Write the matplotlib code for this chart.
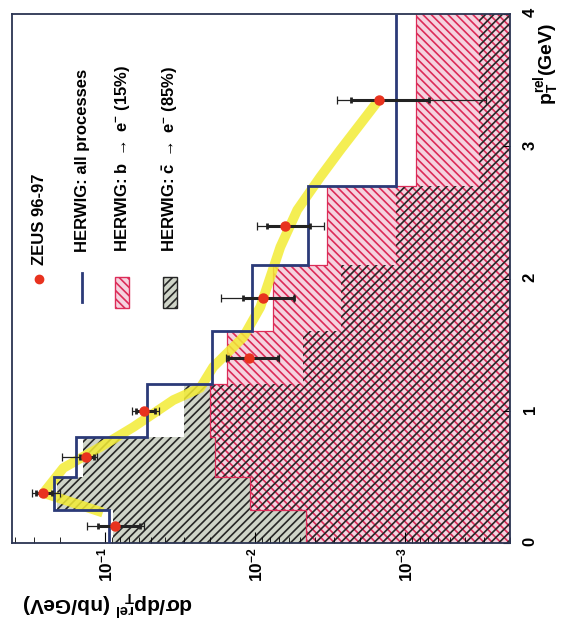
import numpy as np
import matplotlib.pyplot as plt
from matplotlib.patches import Rectangle
from matplotlib.lines import Line2D
from matplotlib.ticker import NullFormatter, LogLocator

plt.rcParams['font.family'] = 'Liberation Sans'
plt.rcParams['font.weight'] = 'bold'
plt.rcParams['mathtext.fontset'] = 'custom'
plt.rcParams['mathtext.rm'] = 'Liberation Sans:bold'
plt.rcParams['mathtext.it'] = 'Liberation Sans:bold'
plt.rcParams['mathtext.bf'] = 'Liberation Sans:bold'
plt.rcParams['hatch.linewidth'] = 1.2

# pT_rel bins (GeV)
edges = [0, 0.25, 0.5, 0.8, 1.2, 1.6, 2.1, 2.7, 4.0]
centres = [0.125, 0.375, 0.65, 1.0, 1.4, 1.85, 2.4, 3.35]

# ZEUS 96-97 cross section (nb/GeV), stat and total errors
zeus = [0.0857, 0.259, 0.134, 0.055, 0.0111, 0.00885, 0.0063, 0.00149]
stat = [0.027, 0.031, 0.014, 0.008, 0.004, 0.0033, 0.002, 0.0008]
tot_lo = [0.030, 0.059, 0.021, 0.011, 0.0041, 0.0033, 0.0028, 0.0012]
tot_hi = [0.046, 0.048, 0.060, 0.011, 0.0047, 0.0082, 0.0034, 0.00135]

# HERWIG predictions
herwig_all = [0.094, 0.222, 0.156, 0.0525, 0.0194, 0.0105, 0.00443, 0.00115]
herwig_b = [0.0046, 0.0108, 0.0185, 0.020, 0.0154, 0.0076, 0.0033, 0.00085]
herwig_c = [0.089, 0.209, 0.142, 0.030, 0.0048, 0.0027, 0.00115, 0.00032]

# yellow band
band_pt = [0.23, 0.378, 0.567, 0.726, 0.877, 1.081, 1.172, 1.331, 1.558,
           1.784, 2.011, 2.238, 2.518, 2.767, 2.972, 3.297, 3.33]
band_val = [0.104, 0.259, 0.191, 0.108, 0.065, 0.0352, 0.0233, 0.0191, 0.0120,
            0.00926, 0.00794, 0.00681, 0.00525, 0.00369, 0.00271, 0.00163, 0.00155]

W, H = 565, 630
fig = plt.figure(figsize=(W/100, H/100), dpi=100)
ax = fig.add_axes([12/W, 1-543/H, 498/W, 529/H])
ax.set_xscale('log')
ax.set_xlim(0.42, 2e-4)
ax.set_ylim(0, 4)

base = 1e-6
c_face = '#cfd4c8'
b_face = '#f5d3df'
c_hatch = '#262626'
b_hatch = '#dc2c58'
# faces first, then hatches so the overlap shows both
ax.stairs(herwig_c, edges, orientation='horizontal', baseline=base, fill=True,
          facecolor=c_face, edgecolor='none', lw=0, zorder=1)
ax.stairs(herwig_b, edges, orientation='horizontal', baseline=base, fill=True,
          facecolor=b_face, edgecolor='none', lw=0, zorder=1.1)
ax.stairs(herwig_b, edges, orientation='horizontal', baseline=base, fill=True,
          facecolor='none', edgecolor=b_hatch, hatch='\\\\\\\\', lw=0, zorder=1.2)
ax.stairs(herwig_c, edges, orientation='horizontal', baseline=base, fill=True,
          facecolor='none', edgecolor=c_hatch, hatch='////', lw=0, zorder=1.3)
ax.stairs(herwig_b, edges, orientation='horizontal', baseline=None,
          color=b_hatch, lw=0.9, zorder=1.4)

# yellow band
ax.plot(band_val, band_pt, color='#f3ec35', lw=7, alpha=0.85,
        solid_capstyle='butt', zorder=2)

# all processes
ax.stairs(herwig_all, edges, orientation='horizontal', baseline=None,
          color='#2b3a78', lw=2.0, zorder=3)

# data
ax.errorbar(zeus, centres, xerr=[tot_lo, tot_hi], fmt='none', ecolor='#222222',
            elinewidth=0.9, capsize=3, capthick=0.9, zorder=4)
ax.errorbar(zeus, centres, xerr=stat, fmt='none', ecolor='#222222',
            elinewidth=2.2, capsize=2.5, capthick=2, zorder=4)
ax.plot(zeus, centres, 'o', color='#e8321e', ms=6.5, zorder=5)

# axes styling
for s in ax.spines.values():
    s.set_color('#2b3452')
    s.set_linewidth(1.3)
ax.set_xticks([1e-1, 1e-2, 1e-3])
ax.set_xticklabels([r'$10^{-1}$', r'$10^{-2}$', r'$10^{-3}$'], rotation=90)
ax.xaxis.set_minor_locator(LogLocator(subs=np.arange(2, 10)))
ax.xaxis.set_minor_formatter(NullFormatter())
ax.tick_params(axis='x', which='major', direction='in', length=8, pad=3,
               labelsize=12.5, top=False)
ax.tick_params(axis='x', which='minor', direction='in', length=4, top=False)
ax.yaxis.tick_right()
ax.set_yticks([0, 1, 2, 3, 4])
ax.set_yticklabels(['0', '1', '2', '3', '4'], rotation=90)
ax.tick_params(axis='y', direction='in', length=5, pad=9, labelsize=12,
               left=False)

fig.text(108/W, 1-603/H, r'd$\sigma$/dp$_T^{rel}$ (nb/GeV)', rotation=180,
         ha='center', va='center', fontsize=15)
fig.text(547/W, 1-64/H, r'p$_T^{rel}$(GeV)', rotation=90,
         ha='center', va='center', fontsize=14)

# legend (rotated)
def ax_xy(px, py):
    return (px-12)/498, (543-py)/529

tr = ax.transAxes
x, y = ax_xy(39, 279)
ax.plot([x], [y], 'o', color='#e8321e', ms=6, transform=tr, zorder=6)
x0, y0 = ax_xy(82, 302)
x1, y1 = ax_xy(82, 273)
ax.add_line(Line2D([x0, x1], [y0, y1], color='#2b3a78', lw=2, transform=tr))
for px, face, hc, hatch in [(115, b_face, b_hatch, '\\\\\\\\'),
                            (163, c_face, c_hatch, '////')]:
    rx, ry = ax_xy(px, 308)
    ax.add_patch(Rectangle((rx, ry), 14/498, 31/529, transform=tr,
                           facecolor=face, edgecolor=hc, hatch=hatch, lw=1, zorder=6))

labels = ['ZEUS 96-97', 'HERWIG: all processes',
          r'HERWIG: b $\rightarrow$ e$^{-}$ (15%)',
          r'HERWIG: $\bar{c}$ $\rightarrow$ e$^{-}$ (85%)']
for px, py, lab in zip([39, 82, 123, 170], [265, 252, 252, 252], labels):
    tx, ty = ax_xy(px, py)
    ax.text(tx, ty, lab, rotation=90, ha='center', va='bottom', fontsize=12,
            transform=tr, zorder=6)

fig.savefig('out.png', dpi=100)
